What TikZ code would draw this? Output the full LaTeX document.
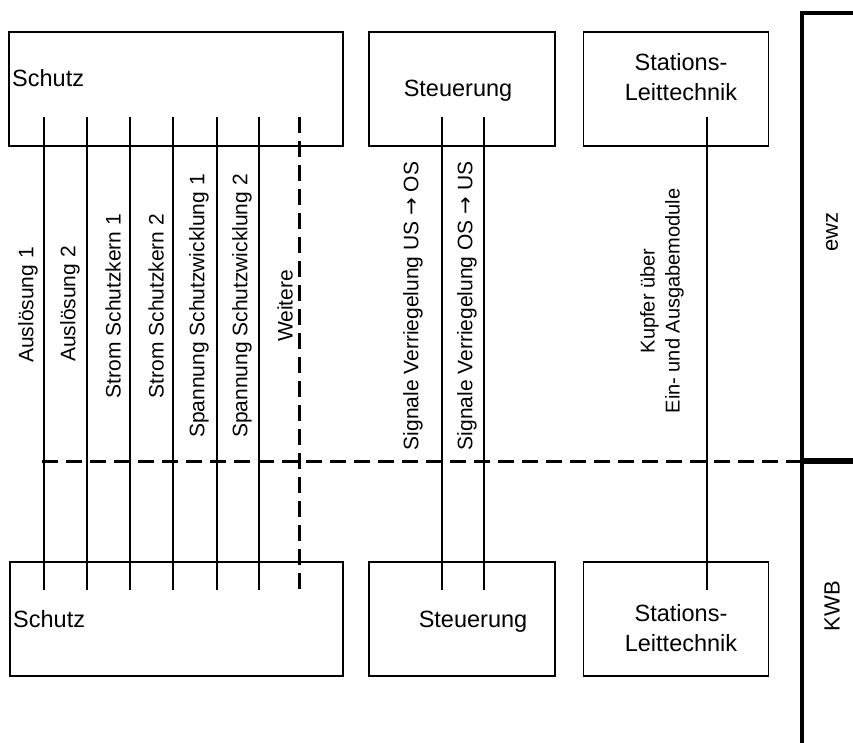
\documentclass[tikz,border=0pt]{standalone}
\usepackage{fontspec}
\setmainfont{Liberation Sans}
\newfontfamily\arrowfont{DejaVu Sans}
\begin{document}
\begin{tikzpicture}[x=1pt,y=-1pt,
  box/.style={draw=black,line width=1.8pt,minimum width=#1,minimum height=114pt,inner sep=0pt},
  boxtext/.style={font=\fontsize{23.5}{30}\selectfont,inner sep=0pt,align=center},
  sig/.style={font=\fontsize{21}{25}\selectfont,rotate=90,inner sep=0pt},
  wire/.style={line width=1.4pt},
  dwire/.style={line width=3pt,dash pattern=on 16pt off 8pt},
  bar/.style={line width=4pt},
  zone/.style={font=\fontsize{22}{26}\selectfont,rotate=90,inner sep=0pt}]
\useasboundingbox (0,0) rectangle (853,743);
% boxes
\node[box=334pt] (schutzT) at (176,89) {};
\node[box=186pt] (steuT) at (462,89) {};
\node[box=185pt] (statT) at (676,89) {};
\node[box=333pt] (schutzB) at (176.5,619) {};
\node[box=186pt] (steuB) at (462,619) {};
\node[box=185pt] (statB) at (676,619) {};
% box texts
\node[boxtext,anchor=base west] (tSchutzT) at (12,87) {Schutz};
\node[boxtext,anchor=base west] (tSchutzB) at (13,627) {Schutz};
\node[boxtext,anchor=base] (tSteuT) at (458,97) {Steuerung};
\node[boxtext,anchor=base] (tSteuB) at (473,627) {Steuerung};
\node[boxtext] (tStatT) at (681,77.5) {Stations-\\Leittechnik};
\node[boxtext] (tStatB) at (681,628.5) {Stations-\\Leittechnik};
% wire end points
\foreach \n/\x in {a/44,b/87,c/130,d/173,e/217,f/259,w/299,s/442,t/484,k/707}{
  \coordinate (\n1) at (\x,117);
  \coordinate (\n2) at (\x,590);
}
\foreach \n in {a,b,c,d,e,f,s,t,k}{ \draw[wire] (\n1) -- (\n2); }
\draw[dwire] (w1) -- (w2);
% signal labels
\node[sig] (la) at (28,305) {Auslösung 1};
\node[sig] (lb) at (70,304) {Auslösung 2};
\node[sig] (lc) at (113,306) {Strom Schutzkern 1};
\node[sig] (ld) at (156,306) {Strom Schutzkern 2};
\node[sig] (le) at (199,306) {Spannung Schutzwicklung 1};
\node[sig] (lf) at (242,306) {Spannung Schutzwicklung 2};
\node[sig] (lw) at (285,306) {Weitere};
\node[sig] (ls) at (413,306) {Signale Verriegelung US {\arrowfont →} OS};
\node[sig] (lt) at (467,306) {Signale Verriegelung OS {\arrowfont →} US};
\node[sig,font=\fontsize{20}{25}\selectfont,align=center] (lk) at (662,301) {Kupfer über\\Ein- und Ausgabemodule};
% boundary
\coordinate (dl) at (42,461);
\coordinate (bm) at (801.5,461);
\coordinate (bt) at (801.5,13);
\coordinate (bb) at (801.5,743);
\coordinate (rt) at (853,13);
\coordinate (rm) at (853,461);
\draw[dwire] (dl) -- (bm);
\draw[bar] (rt) -- (bt) -- (bb);
\draw[line width=6pt] (bm) -- (rm);
\node[zone] (ewz) at (832,232) {ewz};
\node[zone] (kwb) at (832,606) {KWB};
\end{tikzpicture}
\end{document}
